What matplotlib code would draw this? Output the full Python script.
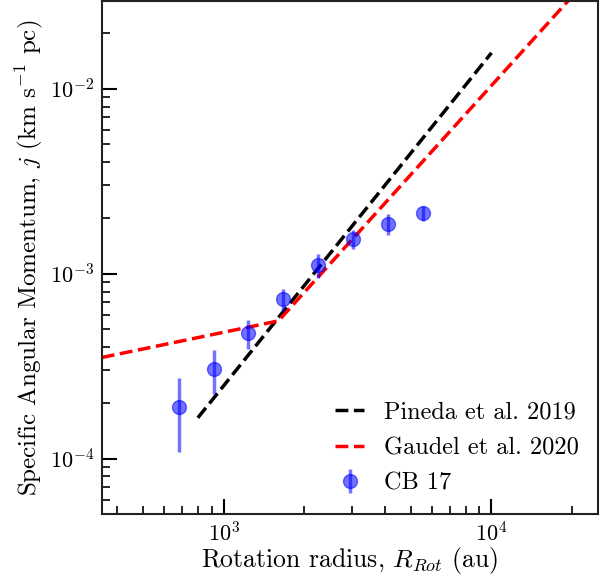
import numpy as np
import matplotlib
matplotlib.use('Agg')
import matplotlib.pyplot as plt

plt.rcParams['font.family'] = 'serif'
plt.rcParams['font.serif'] = ['cmr10']
plt.rcParams['mathtext.fontset'] = 'cm'
plt.rcParams['axes.formatter.use_mathtext'] = True

# CB 17 specific angular momentum profile
r_rot = np.array([679, 918, 1233, 1660, 2249, 3048, 4120, 5559])
j_val = np.array([1.91e-4, 3.04e-4, 4.77e-4, 7.27e-4, 1.114e-3, 1.545e-3, 1.862e-3, 2.12e-3])
j_err = np.array([8.3e-5, 8.0e-5, 8.5e-5, 1.0e-4, 1.7e-4, 1.8e-4, 2.4e-4, 2.0e-4])

# Pineda et al. 2019: j = j0 (R/1000 au)^1.8
r_pineda = np.array([800, 10000])
j0_pineda = 2.48e-4
idx_pineda = 1.8

# Gaudel et al. 2020: broken power law at 1600 au
r_break = 1600
j_break = 5.55e-4
idx_inner = 0.3
idx_outer = 1.6
r_gaudel = np.array([300, r_break, 30000])

fig, ax = plt.subplots(figsize=(6.09, 5.79), dpi=100)

ax.plot(r_pineda, j0_pineda * (r_pineda / 1000.) ** idx_pineda, 'k--', lw=2.5,
        label='Pineda et al. 2019')
j_gaudel = np.where(r_gaudel < r_break,
                    j_break * (r_gaudel / r_break) ** idx_inner,
                    j_break * (r_gaudel / r_break) ** idx_outer)
ax.plot(r_gaudel, j_gaudel, 'r--', lw=2.5, label='Gaudel et al. 2020')
ax.errorbar(r_rot, j_val, yerr=j_err, fmt='o', color='blue', alpha=0.55,
            ms=10, elinewidth=2.5, capsize=0, label='CB 17')

ax.set_xscale('log')
ax.set_yscale('log')
ax.set_xlim(350, 25000)
ax.set_ylim(5e-5, 0.03)
ax.tick_params(which='major', direction='in', length=11, width=1.5, labelsize=16,
               pad=5)
ax.tick_params(which='minor', direction='in', length=6, width=1.2)
for s in ax.spines.values():
    s.set_linewidth(1.5)
    s.set_color('#222222')
ax.set_xlabel('Rotation radius, $R_{Rot}$ (au)', fontsize=18.5, labelpad=0)
ax.set_ylabel('Specific Angular Momentum, $j$ (km s$^{-1}$ pc)', fontsize=18,
              labelpad=4)
ax.legend(loc='lower right', frameon=False, fontsize=17.5, handlelength=1.2,
          labelspacing=0.55, borderaxespad=0.4)

fig.subplots_adjust(left=0.167, right=0.982, top=0.999, bottom=0.112)
fig.savefig('out.png', dpi=100)
